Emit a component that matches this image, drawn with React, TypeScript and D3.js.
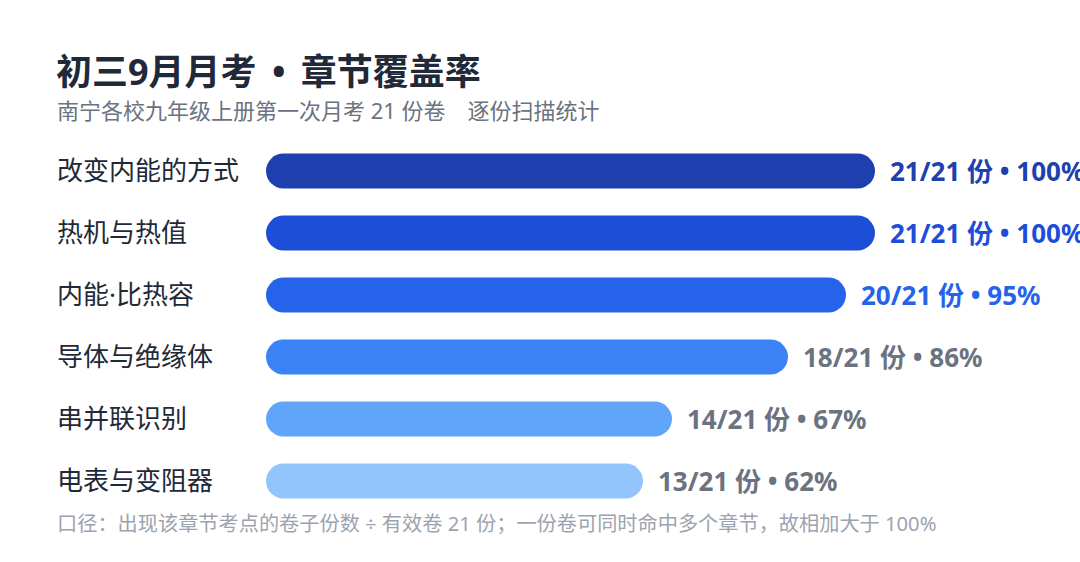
import React from 'react';
import * as d3 from 'd3';

const WIDTH = 1080;
const HEIGHT = 562;
const TOTAL = 21;

const chapters = ['改变内能的方式', '热机与热值', '内能·比热容', '导体与绝缘体', '串并联识别', '电表与变阻器'];
const counts = [21, 21, 20, 18, 14, 13];
const barColors = ['#1e40af', '#1d4ed8', '#2563eb', '#3b82f6', '#60a5fa', '#93c5fd'];

const FONT = '"Noto Sans", "Noto Sans CJK SC", sans-serif';
const margin = {left: 266, right: 205, top: 140};
const ROW = 62;
const BAR_H = 35;

export default function App() {
    const x = d3.scaleLinear().domain([0, TOTAL]).range([margin.left, WIDTH - margin.right]);
    // paddingOuter = paddingInner / 2 keeps step = range / n
    const y = d3.scaleBand<string>()
        .domain(chapters)
        .range([margin.top, margin.top + ROW * chapters.length])
        .paddingInner(0.44)
        .paddingOuter(0.22);

    return (
        <svg width={WIDTH} height={HEIGHT} style={{position: 'absolute', top: 0, left: 0, background: '#fff'}}
             fontFamily={FONT}>
            <text x={56} y={85} fontSize={36} fontWeight={700} fill="#1f2937" style={{whiteSpace: 'pre'}}>
                {'初三9月月考 \u2009•\u2009 章节覆盖率'}
            </text>
            <text x={57} y={119} fontSize={22} fill="#6b7280">南宁各校九年级上册第一次月考 21 份卷　逐份扫描统计</text>

            {chapters.map((c, i) => {
                const yc = (y(c) ?? 0) + y.bandwidth() / 2;
                const x1 = x(counts[i]);
                const pct = Math.round(counts[i] / TOTAL * 100);
                const labelColor = pct >= 90 ? barColors[i] : '#6b7280';
                return (
                    <g key={c}>
                        <text x={57} y={yc} dy="0.36em" fontSize={26} fill="#1f2937">{c}</text>
                        <rect x={x(0)} y={yc - BAR_H / 2} width={x1 - x(0)} height={BAR_H}
                              rx={BAR_H / 2} fill={barColors[i]}/>
                        <text x={x1 + 15} y={yc} dy="0.38em" fontSize={26} fontWeight={700}
                              fill={labelColor}>{`${counts[i]}/${TOTAL} 份 • ${pct}%`}</text>
                    </g>
                );
            })}

            <text x={57} y={531} fontSize={20.2} fill="#9ca3af">口径：出现该章节考点的卷子份数 ÷ 有效卷 21 份；一份卷可同时命中多个章节，故相加大于 100%</text>
        </svg>
    );
}
